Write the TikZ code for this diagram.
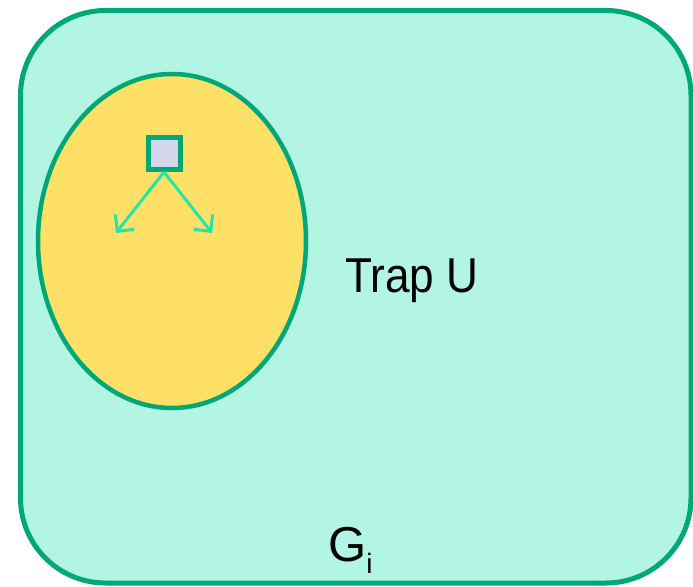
\documentclass[tikz,border=0pt]{standalone}
\usepackage{fontspec}
\setmainfont{Liberation Sans}
\usetikzlibrary{arrows.meta}
\definecolor{outerfill}{HTML}{B3F5E3}
\definecolor{edgegreen}{HTML}{00A878}
\definecolor{trapfill}{HTML}{FFE066}
\definecolor{vertfill}{HTML}{D4D6EC}
\definecolor{arrowgreen}{HTML}{22E6A8}
\tikzset{
  regionbox/.style={draw=edgegreen, fill=outerfill, line width=5pt, rounded corners=85pt},
  trapshape/.style={draw=edgegreen, fill=trapfill, line width=4.5pt},
  vertex/.style={draw=edgegreen, fill=vertfill, line width=5pt, minimum size=32pt, inner sep=0pt, rectangle},
  edgearrow/.style={draw=arrowgreen, line width=3pt, -{Straight Barb[length=12pt,width=24pt,line width=3pt]}},
  label/.style={font=\fontsize{49}{49}\selectfont, inner sep=0pt}
}
\begin{document}
\begin{tikzpicture}[x=1pt,y=-1pt]
\useasboundingbox (0,0) rectangle (693,586);
\draw[regionbox] (20.5,10.5) rectangle (691,583);
\draw[trapshape] (172,241) ellipse [x radius=134, y radius=167];
\node[vertex] (v) at (164,153.5) {};
\coordinate (l) at (116,233);
\coordinate (r) at (212,233);
\draw[edgearrow] (v.south) -- (l);
\draw[edgearrow] (v.south) -- (r);
\node[label, anchor=base west] (trap) at (345,292) {\scalebox{0.9}[1]{Trap U}};
\node[label, anchor=base west] (g) at (328,561) {G\raisebox{-12pt}{\fontsize{28}{28}\selectfont i}};
\end{tikzpicture}
\end{document}
